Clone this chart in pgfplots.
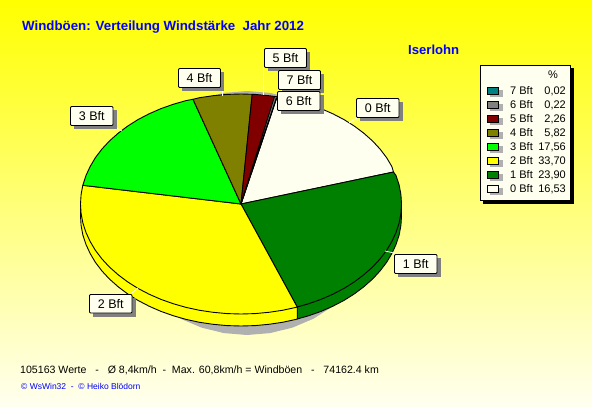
\documentclass[border=0pt]{standalone}
\usepackage{fontspec}
\setmainfont{Liberation Sans}
\usepackage{pgfplots}
\pgfplotsset{compat=1.18}

\definecolor{ivory}{RGB}{255,255,240}
\definecolor{bgend}{RGB}{255,255,240}
\definecolor{title}{RGB}{0,0,255}
\definecolor{bft7}{RGB}{0,128,128}
\definecolor{bft6}{RGB}{128,128,128}
\definecolor{bft5}{RGB}{128,0,0}
\definecolor{bft4}{RGB}{128,128,0}
\definecolor{bft3}{RGB}{0,255,0}
\definecolor{bft2}{RGB}{255,255,0}
\definecolor{bft1}{RGB}{0,128,0}
\definecolor{bft0}{RGB}{255,255,240}
\definecolor{shadow}{RGB}{176,176,176}

% one unit of the axis is one pixel of the picture
\newcommand{\callout}[5]{%
  \fill[black!50] (#1+3.5,#2+3.5) rectangle (#3+3.5,#4+3.5);
  \draw[black,fill=ivory,line width=0.9pt,rounded corners=1pt] (#1,#2) rectangle (#3,#4);
  \node[font=\fontsize{12.5}{14}\selectfont] at ({(#1+#3)/2},{(#2+#4)/2}) {#5};
}
\newcommand{\legrow}[3]{%
  \fill[shadow] (490,#1-1) rectangle (503,#1+6.5);
  \draw[black,fill=#2,line width=0.9pt] (487.5,#1-3.3) rectangle (498,#1+3.3);
  \node[font=\fontsize{11}{13}\selectfont,anchor=base west,inner sep=0pt] at (510,#1+4) {#3};
}
\newcommand{\legval}[2]{%
  \node[font=\fontsize{11}{13}\selectfont,anchor=base east,inner sep=0pt] at (566,#1+4) {#2};
}

\begin{document}
\begin{tikzpicture}
\begin{axis}[
  scale only axis,
  width=592pt, height=407pt,
  xmin=0, xmax=592,
  ymin=0, ymax=407,
  y dir=reverse,
  hide axis,
  axis background/.style={top color=yellow, bottom color=bgend},
  every axis plot/.append style={mark=none, line join=round},
]
% shadow under the pie
\addplot[draw=none, fill=shadow] coordinates {
  (247,91)(270.1,92.9)(292.5,98.4)(313.5,107.3)(332.5,119.5)(348.9,134.6)
  (362.2,152)(372,171.3)(378,191.8)(380,213)(378,234.2)(372,254.7)
  (362.2,274)(348.9,291.4)(332.5,306.5)(313.5,318.7)(292.5,327.6)(270.1,333.1)
  (247,335)(223.9,333.1)(201.5,327.6)(180.5,318.7)(161.5,306.5)(145.1,291.4)
  (131.8,274)(122,254.7)(116,234.2)(114,213)(116,191.8)(122,171.3)
  (131.8,152)(145.1,134.6)(161.5,119.5)(180.5,107.3)(201.5,98.4)(223.9,92.9)
} --cycle;
% side walls
\addplot[draw=black, line width=0.9pt, fill=bft1] coordinates {
  (401.5,204)(401.5,216)(400.9,225.6)(399.1,235.1)(396,244.5)(391.8,253.6)
  (386.5,262.5)(380,271)(372.5,279.1)(363.9,286.7)(354.5,293.8)(344.2,300.3)
  (333.1,306.1)(321.25,311.3)(308.8,315.7)(297.2,319)(297.2,307)
} --cycle;
\addplot[draw=black, line width=0.9pt, fill=bft2] coordinates {
  (297.2,307)(297.2,319)(295.9,319.4)(282.5,322.3)(268.9,324.3)(255,325.6)
  (241,326)(227,325.6)(213.1,324.3)(199.5,322.3)(186.1,319.4)(173.2,315.7)
  (160.75,311.3)(148.9,306.1)(137.8,300.3)(127.5,293.8)(118.1,286.7)(109.5,279.1)
  (102,271)(95.5,262.5)(90.2,253.6)(86,244.5)(82.9,235.1)(81.1,225.6)
  (80.5,216)(80.5,204)
} --cycle;
% 0 Bft
\addplot[draw=black, line width=0.9pt, fill=bft0] coordinates {
  (241,204)(277.1,96.8)(282.5,97.7)(295.9,100.6)(308.8,104.3)(321.25,108.7)
  (333.1,113.9)(344.2,119.7)(354.5,126.2)(363.9,133.3)(372.5,140.9)(380,149)
  (386.5,157.5)(391.8,166.4)(393.5,172)
} --cycle;
% 1 Bft
\addplot[draw=black, line width=0.9pt, fill=bft1] coordinates {
  (241,204)(393.5,172)(396,175.5)(399.1,184.9)(400.9,194.4)(401.5,204)
  (400.9,213.6)(399.1,223.1)(396,232.5)(391.8,241.6)(386.5,250.5)(380,259)
  (372.5,267.1)(363.9,274.7)(354.5,281.8)(344.2,288.3)(333.1,294.1)(321.25,299.3)
  (308.8,303.7)(297.2,307)
} --cycle;
% 2 Bft
\addplot[draw=black, line width=0.9pt, fill=bft2] coordinates {
  (241,204)(297.2,307)(295.9,307.4)(282.5,310.3)(268.9,312.3)(255,313.6)
  (241,314)(227,313.6)(213.1,312.3)(199.5,310.3)(186.1,307.4)(173.2,303.7)
  (160.75,299.3)(148.9,294.1)(137.8,288.3)(127.5,281.8)(118.1,274.7)(109.5,267.1)
  (102,259)(95.5,250.5)(90.2,241.6)(86,232.5)(82.9,223.1)(81.1,213.6)
  (80.5,204)(81.1,194.4)(82.8,185.3)
} --cycle;
% 3 Bft
\addplot[draw=black, line width=0.9pt, fill=bft3] coordinates {
  (241,204)(82.8,185.3)(86,175.5)(90.2,166.4)(95.5,157.5)(102,149)
  (109.5,140.9)(118.1,133.3)(127.5,126.2)(137.8,119.7)(148.9,113.9)(160.75,108.7)
  (173.2,104.3)(186.1,100.6)(193,99.3)
} --cycle;
% 4 Bft
\addplot[draw=black, line width=0.9pt, fill=bft4] coordinates {
  (241,204)(193,99.3)(199.5,97.7)(213.1,95.7)(227,94.4)(241,94)(252.2,94.3)
} --cycle;
% 5 Bft
\addplot[draw=black, line width=0.9pt, fill=bft5] coordinates {
  (241,204)(252.2,94.3)(255,94.4)(268.9,95.7)(274.6,96.4)
} --cycle;
% 6 Bft
\addplot[draw=black, line width=0.9pt, fill=bft6] coordinates {
  (241,204)(274.6,96.4)(276.8,96.8)
} --cycle;
% 7 Bft
\addplot[draw=black, line width=0.9pt, fill=bft7] coordinates {
  (241,204)(276.8,96.8)(277.1,96.8)
} --cycle;

% leader lines
\draw[white,line width=0.8pt] (263.7,67) -- (263.7,95);
\draw[white,line width=0.8pt] (357,118) -- (349,123);
\draw[white,line width=0.8pt] (132,293) -- (138,288);
\draw[white,line width=0.8pt] (394,253) -- (385,251);
\draw[white,line width=0.8pt] (222,88) -- (222,96);
\draw[white,line width=0.8pt] (116,128) -- (122,131);
\draw[white,line width=0.8pt] (277,97) -- (279,100);

% labels
\callout{264.5}{48.5}{306.5}{67.5}{5 Bft}
\callout{278.5}{70.5}{320.5}{89.5}{7 Bft}
\callout{277.5}{91.5}{320}{110.5}{6 Bft}
\callout{356.5}{98.5}{399}{117.5}{0 Bft}
\callout{178.5}{68.5}{220.5}{87.5}{4 Bft}
\callout{70.5}{106.5}{113}{125.5}{3 Bft}
\callout{89.5}{294.5}{132}{313}{2 Bft}
\callout{394.5}{254.5}{437}{273.5}{1 Bft}

% legend
\fill[black] (483,68) rectangle (573.5,203.5);
\draw[black,fill=ivory,line width=0.9pt] (480.5,65.5) rectangle (570.5,200.5);
\node[font=\fontsize{11}{13}\selectfont,anchor=base,inner sep=0pt] at (553,78) {\%};
\legrow{90.7}{bft7}{7 Bft}\legval{90.7}{0,02}
\legrow{104.7}{bft6}{6 Bft}\legval{104.7}{0,22}
\legrow{118.7}{bft5}{5 Bft}\legval{118.7}{2,26}
\legrow{132.7}{bft4}{4 Bft}\legval{132.7}{5,82}
\legrow{146.7}{bft3}{3 Bft}\legval{146.7}{17,56}
\legrow{160.7}{bft2}{2 Bft}\legval{160.7}{33,70}
\legrow{174.7}{bft1}{1 Bft}\legval{174.7}{23,90}
\legrow{188.7}{bft0}{0 Bft}\legval{188.7}{16,53}

% texts
\node[font=\fontsize{13.3}{15}\bfseries\selectfont,text=title,anchor=base west,inner sep=0pt] at (22,30)
  {Windböen: Verteilung Windstärke\ \ Jahr 2012};
\node[font=\fontsize{13.1}{15}\bfseries\selectfont,text=title,anchor=base west,inner sep=0pt] at (408,54) {Iserlohn};
\node[font=\fontsize{10.6}{13}\selectfont,anchor=base west,inner sep=0pt] at (20,373)
  {105163 Werte\ \ \ -\ \ \ Ø 8,4km/h\ \ -\ \ Max. 60,8km/h = Windböen\ \ \ -\ \ \ 74162.4 km};
\node[font=\fontsize{8.5}{10}\selectfont,text=title,anchor=base west,inner sep=0pt] at (21,389)
  {© WsWin32\ \ -\ \ © Heiko Blödorn};
\end{axis}
\end{tikzpicture}
\end{document}
